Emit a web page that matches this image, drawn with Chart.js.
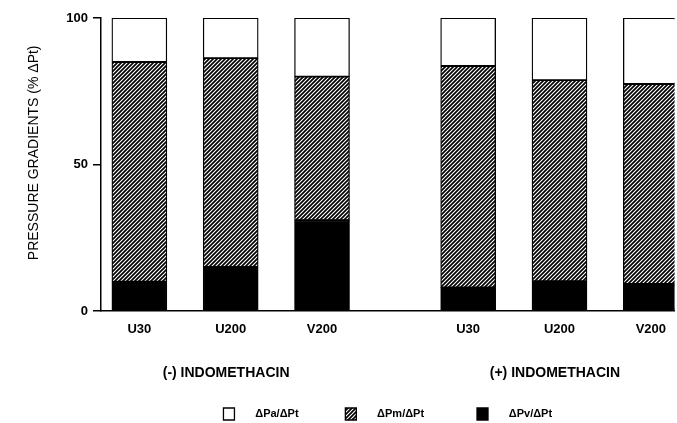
<!DOCTYPE html>
<html lang="en">
<head>
<meta charset="UTF-8">
<title>Pressure gradients</title>
<style>
  html, body { margin: 0; padding: 0; background: #fff; }
</style>
</head>
<body>
<canvas id="myChart" width="677" height="423"></canvas>

<script src="https://cdn.jsdelivr.net/npm/chart.js@4/dist/chart.umd.min.js"></script>
<script>
// values (% of total pressure drop)
var conditions = ['U30', 'U200', 'V200', 'U30', 'U200', 'V200'];
var barPos = [1, 2, 3, 4.6, 5.6, 6.6];
var groups = ['(-) INDOMETHACIN', '(+) INDOMETHACIN'];
var groupPos = [1.95, 5.55];
var pv = [10, 15, 31, 8, 10.2, 9.2];
var pm = [75, 71.3, 49, 75.6, 68.6, 68.3];
var pa = [15, 13.7, 20, 16.4, 21.2, 22.5];

var FONT = 'Liberation Sans, Arial, Helvetica, sans-serif';

// diagonal hatch for the middle segment
function makeHatch() {
    var c = document.createElement('canvas');
    c.width = 4; c.height = 4;
    var g = c.getContext('2d');
    g.fillStyle = '#fff';
    g.fillRect(0, 0, 4, 4);
    g.strokeStyle = '#000';
    g.lineWidth = 1.7;
    g.beginPath();
    g.moveTo(0, 4); g.lineTo(4, 0);
    g.moveTo(-1, 1); g.lineTo(1, -1);
    g.moveTo(3, 5); g.lineTo(5, 3);
    g.stroke();
    return g.createPattern(c, 'repeat');
}
var hatch = makeHatch();

function points(vals) {
    return barPos.map(function (x, i) { return { x: x, y: vals[i] }; });
}

function barSet(label, vals, fill) {
    return {
        label: label,
        data: points(vals),
        backgroundColor: fill,
        borderColor: '#000',
        borderWidth: 1.3,
        borderSkipped: false,
        barThickness: 55
    };
}

// trailing spaces give the wide gaps between legend entries
var legendTail = { '\u0394Pa/\u0394Pt': 14, '\u0394Pm/\u0394Pt': 16, '\u0394Pv/\u0394Pt': 0 };

var ctx = document.getElementById('myChart').getContext('2d');
var myChart = new Chart(ctx, {
    type: 'bar',
    data: {
        datasets: [
            barSet('\u0394Pv/\u0394Pt', pv, '#000'),
            barSet('\u0394Pm/\u0394Pt', pm, hatch),
            barSet('\u0394Pa/\u0394Pt', pa, '#fff')
        ]
    },
    options: {
        responsive: false,
        animation: false,
        layout: { padding: { top: 18, right: 0, bottom: 0, left: 0 } },
        plugins: {
            tooltip: { enabled: false },
            legend: {
                position: 'bottom',
                fullSize: false,
                reverse: true,
                maxHeight: 19,
                labels: {
                    boxWidth: 11,
                    boxHeight: 12,
                    padding: 4,
                    color: '#000',
                    font: { family: FONT, size: 11, weight: 'bold' },
                    generateLabels: function (chart) {
                        var items = Chart.defaults.plugins.legend.labels.generateLabels(chart);
                        items.forEach(function (it) {
                            it.text = '     ' + it.text + ' '.repeat(legendTail[it.text]);
                        });
                        return items;
                    }
                }
            }
        },
        scales: {
            x: {
                type: 'linear',
                min: 0.58,
                max: 6.86,
                offset: false,
                stacked: true,
                weight: 0,
                grid: { display: true, drawOnChartArea: false, drawTicks: false },
                border: { color: '#000', width: 1.5 },
                afterBuildTicks: function (s) {
                    s.ticks = barPos.map(function (v) { return { value: v }; });
                },
                ticks: {
                    autoSkip: false,
                    maxRotation: 0,
                    padding: 11,
                    color: '#000',
                    font: { family: FONT, size: 13, weight: 'bold' },
                    callback: function (v) { return conditions[barPos.indexOf(v)]; }
                },
                afterFit: function (s) { s.height = 40; }
            },
            x2: {
                type: 'linear',
                position: 'bottom',
                min: 0.58,
                max: 6.86,
                offset: false,
                weight: 1,
                grid: { display: false, drawTicks: false },
                border: { display: false },
                afterBuildTicks: function (s) {
                    s.ticks = groupPos.map(function (v) { return { value: v }; });
                },
                ticks: {
                    autoSkip: false,
                    maxRotation: 0,
                    padding: 14,
                    color: '#000',
                    font: { family: FONT, size: 14, weight: 'bold' },
                    callback: function (v) { return groups[groupPos.indexOf(v)]; }
                },
                afterFit: function (s) { s.height = 53; }
            },
            y: {
                stacked: true,
                min: 0,
                max: 100,
                grid: { drawOnChartArea: false, tickLength: 8, color: '#000', lineWidth: 1.5 },
                border: { color: '#000', width: 1.5 },
                ticks: {
                    stepSize: 50,
                    padding: 5,
                    color: '#000',
                    font: { family: FONT, size: 13, weight: 'bold' }
                },
                title: {
                    display: true,
                    text: '      PRESSURE GRADIENTS (% \u0394Pt)',
                    color: '#000',
                    font: { family: FONT, size: 14 },
                    padding: { top: 26, bottom: 0 }
                },
                afterFit: function (s) { s.width = 101; }
            }
        }
    }
});
</script>
</body>
</html>
